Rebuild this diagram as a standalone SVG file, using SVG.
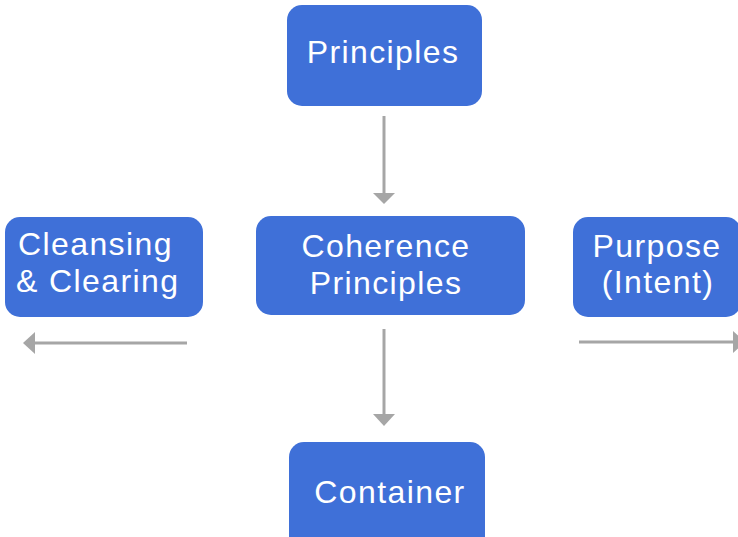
<svg xmlns="http://www.w3.org/2000/svg" width="738" height="537" viewBox="0 0 738 537">
<style>
.box{fill:#3f70d8;}
.t{font-family:"Liberation Sans",Arial,sans-serif;font-size:32px;fill:#ffffff;text-anchor:middle;letter-spacing:1.4px;}
.tl{text-anchor:start;}
.c{stroke:#a6a6a6;stroke-width:3;fill:none;}
.h{fill:#a6a6a6;}
</style>
<rect width="738" height="537" fill="#ffffff"/>
<g id="principles"><rect class="box" x="287" y="5" width="195" height="101" rx="15"/><text class="t" x="383" y="63">Principles</text></g>
<g id="coherence"><rect class="box" x="256" y="216" width="269" height="99" rx="15"/><text class="t" x="386" y="257">Coherence</text><text class="t" x="386" y="294">Principles</text></g>
<g id="cleansing"><rect class="box" x="5" y="217" width="198" height="100" rx="15"/><text class="t tl" x="18" y="255">Cleansing</text><text class="t tl" x="16" y="292">&amp; Clearing</text></g>
<g id="purpose"><rect class="box" x="573" y="217" width="168" height="100" rx="15"/><text class="t" x="657" y="257">Purpose</text><text class="t" x="658" y="293">(Intent)</text></g>
<g id="container"><rect class="box" x="289" y="442" width="196" height="110" rx="15"/><text class="t" x="390" y="503">Container</text></g>
<g id="connectors">
<line class="c" x1="384" y1="116" x2="384" y2="194"/><polygon class="h" points="373,193 395,193 384,204"/>
<line class="c" x1="384" y1="329" x2="384" y2="415"/><polygon class="h" points="373,414 395,414 384,426"/>
<line class="c" x1="187" y1="343" x2="34" y2="343"/><polygon class="h" points="35,332 35,354 23,343"/>
<line class="c" x1="579" y1="342" x2="734" y2="342"/><polygon class="h" points="733,331 733,353 745,342"/>
</g>
</svg>
